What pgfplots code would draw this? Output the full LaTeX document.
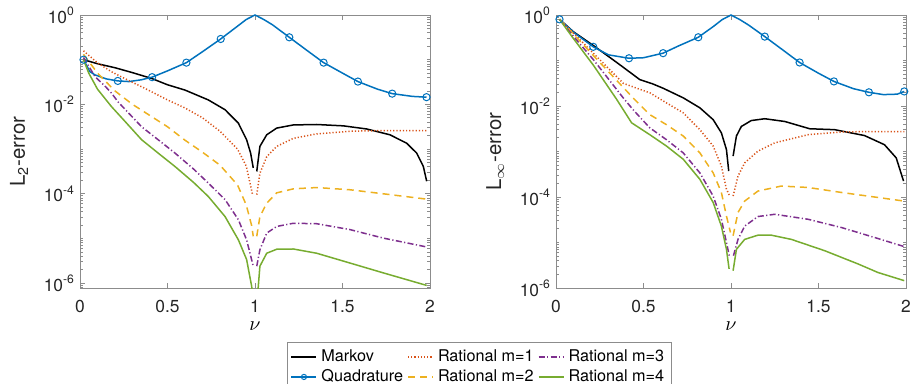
\documentclass[border=0pt]{standalone}
\usepackage{fontspec}
\setmainfont{TeX Gyre Heros}
\usepackage{pgfplots}
\pgfplotsset{compat=1.18}
\definecolor{mblue}{rgb}{0,0.447,0.741}
\definecolor{morange}{rgb}{0.85,0.325,0.098}
\definecolor{myellow}{rgb}{0.929,0.694,0.125}
\definecolor{mpurple}{rgb}{0.494,0.184,0.556}
\definecolor{mgreen}{rgb}{0.466,0.674,0.188}
\tikzset{
 mk/.style={color=black, draw=black, solid, line width=0.75pt},
 qd/.style={color=mblue, draw=mblue, solid, line width=0.75pt},
 r1/.style={color=morange, draw=morange, line width=0.75pt, dash pattern=on 0.6pt off 1pt},
 r2/.style={color=myellow, draw=myellow, line width=0.75pt, dash pattern=on 3.5pt off 2.5pt},
 r3/.style={color=mpurple, draw=mpurple, line width=0.75pt, dash pattern=on 3pt off 1.2pt on 0.6pt off 1.2pt},
 r4/.style={color=mgreen, draw=mgreen, solid, line width=0.75pt},
}
\pgfplotsset{
 every axis/.append style={
  scale only axis, width=175pt, height=136.5pt,
  xmin=0, xmax=2, ymax=1,
  xtick={0,0.5,1,1.5,2}, xticklabels={0,0.5,1,1.5,2},
  ytick={1e-6,1e-4,1e-2,1},
  yticklabels={10\textsuperscript{-6},10\textsuperscript{-4},10\textsuperscript{-2},10\textsuperscript{0}},
  minor ytick={8e-7,9e-7,2e-6,3e-6,4e-6,5e-6,6e-6,7e-6,8e-6,9e-6,1e-5,2e-5,3e-5,4e-5,5e-5,6e-5,7e-5,8e-5,9e-5,2e-4,3e-4,4e-4,5e-4,6e-4,7e-4,8e-4,9e-4,1e-3,2e-3,3e-3,4e-3,5e-3,6e-3,7e-3,8e-3,9e-3,2e-2,3e-2,4e-2,5e-2,6e-2,7e-2,8e-2,9e-2,1e-1,2e-1,3e-1,4e-1,5e-1,6e-1,7e-1,8e-1,9e-1},
  tick align=inside,
  major tick length=2.6pt, minor tick length=1.4pt,
  axis line style={black!45,line width=0.4pt},
  tick style={black!45,line width=0.4pt},
  tick label style={font=\fontsize{8.7}{10}\selectfont, text=black!85},
  xticklabel style={yshift=-2.5pt},
  yticklabel style={xshift=1pt},
  xlabel style={at={(axis description cs:0.5,-0.14)},anchor=center,inner sep=0pt,font=\fontsize{10.2}{12}\selectfont},
  ylabel style={at={(axis description cs:-0.174,0.5)},anchor=center,font=\fontsize{10.2}{12}\selectfont, text=black!85},
  unbounded coords=jump,
 },
}
\begin{document}
\begin{tikzpicture}
\useasboundingbox (0,0) rectangle (457.5pt,-192pt);
% ---------------- left: L2 error ----------------
\begin{semilogyaxis}[at={(40pt,-7.5pt)}, anchor=north west, ymin=7.8e-7,
  xlabel={$\nu$}, ylabel={L\textsubscript{2}-error},
  legend columns=3,
  legend style={at={(axis description cs:1.141,-0.197)}, anchor=north,
    draw=black!45, font=\fontsize{8.1}{9}\selectfont,
    inner xsep=1.5pt, inner ysep=1.9pt, row sep=-1.7pt},
  legend cell align=left,
  legend image code/.code={\draw[mark repeat=2,mark phase=2,#1,line width=0.95pt] plot coordinates {(0pt,0pt) (6.25pt,0pt) (12.5pt,0pt)};},
]
\addlegendimage{mk}\addlegendentry{Markov}
\addlegendimage{r1}\addlegendentry{Rational m=1}
\addlegendimage{r3}\addlegendentry{Rational m=3}
\addlegendimage{qd,mark=o,mark size=1.3pt,mark options={solid,draw=mblue,line width=0.5pt}}\addlegendentry{Quadrature}
\addlegendimage{r2}\addlegendentry{Rational m=2}
\addlegendimage{r4}\addlegendentry{Rational m=4}
% Markov
\addplot[mk, forget plot] coordinates {
(0.02,1.00e-1) (0.10,8.13e-2) (0.20,6.61e-2) (0.30,5.13e-2) (0.41,3.80e-2) (0.50,2.75e-2)
(0.60,2.09e-2) (0.733,1.26e-2) (0.829,7.59e-3) (0.905,3.80e-3) (0.952,1.62e-3) (0.975,8.13e-4)
(0.99,3.80e-4) (1.0,nan) (1.01,3.16e-4) (1.028,1.15e-3) (1.067,2.09e-3) (1.124,2.95e-3)
(1.219,3.47e-3) (1.352,3.55e-3) (1.505,3.31e-3) (1.638,2.82e-3) (1.771,2.09e-3) (1.867,1.35e-3)
(1.924,8.13e-4) (1.962,4.07e-4) (1.981,1.91e-4)};
% Quadrature
\addplot[qd, forget plot] coordinates {
(0.02,1.00e-1) (0.057,5.37e-2) (0.086,4.57e-2) (0.15,3.72e-2) (0.216,3.35e-2) (0.28,3.24e-2)
(0.35,3.55e-2) (0.412,4.07e-2) (0.50,5.62e-2) (0.608,8.59e-2) (0.70,1.51e-1) (0.804,2.91e-1)
(0.90,5.62e-1) (0.95,7.94e-1) (1.00,1.0) (1.05,7.94e-1) (1.10,6.03e-1) (1.196,3.17e-1)
(1.30,1.58e-1) (1.392,8.59e-2) (1.50,5.01e-2) (1.588,3.24e-2) (1.70,2.19e-2) (1.784,1.74e-2)
(1.90,1.51e-2) (1.98,1.45e-2)};
\addplot[mblue, only marks, mark=o, mark size=1.8pt, mark options={solid,line width=0.5pt}, forget plot] coordinates {
(0.02,1.00e-1) (0.216,3.35e-2) (0.412,4.07e-2) (0.608,8.59e-2) (0.804,2.91e-1)
(1.196,3.17e-1) (1.392,8.59e-2) (1.588,3.24e-2) (1.784,1.74e-2) (1.98,1.45e-2)};
% Rational m=1
\addplot[r1, forget plot] coordinates {
(0.02,1.58e-1) (0.10,8.51e-2) (0.18,5.37e-2) (0.27,3.55e-2) (0.37,2.29e-2) (0.50,1.26e-2)
(0.60,8.32e-3) (0.70,5.01e-3) (0.80,2.51e-3) (0.90,1.00e-3) (0.95,4.17e-4) (0.985,1.00e-4)
(1.0,nan) (1.01,9.55e-5) (1.028,2.88e-4) (1.067,6.76e-4) (1.124,1.15e-3) (1.219,1.74e-3)
(1.352,2.19e-3) (1.543,2.51e-3) (1.733,2.60e-3) (1.981,2.60e-3)};
% Rational m=2
\addplot[r2, forget plot] coordinates {
(0.02,1.32e-1) (0.10,5.01e-2) (0.20,2.00e-2) (0.30,1.00e-2) (0.40,5.62e-3) (0.50,3.16e-3)
(0.60,1.58e-3) (0.70,8.51e-4) (0.80,4.37e-4) (0.90,1.58e-4) (0.95,5.62e-5) (0.98,2.00e-5)
(0.99,1.12e-5) (1.0,nan) (1.01,1.12e-5) (1.028,3.09e-5) (1.067,6.17e-5) (1.124,1.05e-4)
(1.219,1.29e-4) (1.352,1.38e-4) (1.543,1.23e-4) (1.733,1.00e-4) (1.981,7.59e-5)};
% Rational m=3
\addplot[r3, forget plot] coordinates {
(0.02,1.12e-1) (0.086,4.17e-2) (0.15,2.40e-2) (0.18,1.78e-2) (0.219,1.12e-2) (0.352,3.16e-3)
(0.45,1.58e-3) (0.543,8.13e-4) (0.65,3.55e-4) (0.733,1.74e-4) (0.829,7.41e-5) (0.905,2.63e-5)
(0.952,9.33e-6) (0.99,2.40e-6) (1.0,nan) (1.01,2.40e-6) (1.028,5.62e-6) (1.067,1.32e-5)
(1.124,1.86e-5) (1.219,2.19e-5) (1.352,2.14e-5) (1.543,1.58e-5) (1.733,1.02e-5) (1.981,6.46e-6)};
% Rational m=4
\addplot[r4, forget plot] coordinates {
(0.02,1.00e-1) (0.05,5.01e-2) (0.10,2.19e-2) (0.18,8.91e-3) (0.25,4.47e-3) (0.352,1.62e-3)
(0.45,7.94e-4) (0.543,4.07e-4) (0.65,1.78e-4) (0.733,8.71e-5) (0.829,3.09e-5) (0.905,9.33e-6)
(0.952,3.39e-6) (0.981,8.51e-7) (0.99,3.16e-7) (1.0,nan) (1.01,3.16e-7) (1.028,2.40e-6)
(1.067,4.68e-6) (1.124,5.75e-6) (1.219,5.82e-6) (1.352,4.68e-6) (1.543,2.82e-6) (1.733,1.70e-6)
(1.981,8.91e-7)};
\end{semilogyaxis}
% ---------------- right: L-infinity error ----------------
\begin{semilogyaxis}[at={(278pt,-7.5pt)}, anchor=north west, ymin=1e-6,
  xlabel={$\nu$}, ylabel={L$_\infty$-error}]
\addplot[mk] coordinates {
(0.02,8.04e-1) (0.10,4.27e-1) (0.213,2.14e-1) (0.346,9.12e-2) (0.479,3.80e-2) (0.55,3.09e-2)
(0.613,2.45e-2) (0.727,1.51e-2) (0.822,9.12e-3) (0.898,5.01e-3) (0.945,2.57e-3) (0.974,1.10e-3)
(0.987,3.72e-4) (1.0,nan) (1.012,7.94e-4) (1.031,2.19e-3) (1.059,3.55e-3) (1.116,4.79e-3)
(1.193,5.25e-3) (1.307,4.57e-3) (1.45,3.16e-3) (1.592,3.02e-3) (1.763,2.24e-3) (1.877,1.41e-3)
(1.944,7.24e-4) (1.986,2.24e-4)};
\addplot[qd] coordinates {
(0.02,8.04e-1) (0.10,4.17e-1) (0.213,2.00e-1) (0.30,1.33e-1) (0.417,1.12e-1) (0.50,1.15e-1)
(0.612,1.45e-1) (0.70,2.09e-1) (0.813,3.24e-1) (0.90,5.62e-1) (0.95,7.94e-1) (1.00,1.0)
(1.05,7.94e-1) (1.10,6.03e-1) (1.193,3.35e-1) (1.30,1.66e-1) (1.392,9.04e-2) (1.50,5.25e-2)
(1.588,3.47e-2) (1.70,2.40e-2) (1.788,2.00e-2) (1.87,1.78e-2) (1.95,1.82e-2) (1.99,2.09e-2)};
\addplot[mblue, only marks, mark=o, mark size=1.8pt, mark options={solid,line width=0.5pt}] coordinates {
(0.02,8.04e-1) (0.213,2.00e-1) (0.417,1.12e-1) (0.612,1.45e-1) (0.813,3.24e-1)
(1.193,3.35e-1) (1.392,9.04e-2) (1.588,3.47e-2) (1.788,2.00e-2) (1.99,2.09e-2)};
\addplot[r1] coordinates {
(0.02,8.04e-1) (0.10,3.98e-1) (0.213,1.45e-1) (0.384,3.16e-2) (0.44,2.63e-2) (0.536,1.95e-2)
(0.631,1.17e-2) (0.727,7.08e-3) (0.822,3.02e-3) (0.898,1.32e-3) (0.945,4.79e-4) (0.974,1.48e-4)
(0.993,1.05e-4) (1.0,nan) (1.012,1.05e-4) (1.04,2.88e-4) (1.078,5.62e-4) (1.154,1.02e-3)
(1.25,1.55e-3) (1.44,2.34e-3) (1.63,2.69e-3) (1.82,2.75e-3) (1.99,2.75e-3)};
\addplot[r2] coordinates {
(0.02,8.04e-1) (0.10,3.80e-1) (0.213,1.29e-1) (0.384,2.57e-2) (0.44,1.51e-2) (0.536,6.46e-3)
(0.631,3.89e-3) (0.727,2.19e-3) (0.822,9.33e-4) (0.898,3.39e-4) (0.945,1.26e-4) (0.974,3.80e-5)
(0.997,1.66e-5) (1.0,nan) (1.012,1.41e-5) (1.04,4.57e-5) (1.078,8.13e-5) (1.154,1.35e-4)
(1.287,1.74e-4) (1.44,1.62e-4) (1.63,1.26e-4) (1.82,1.00e-4) (1.99,8.13e-5)};
\addplot[r3] coordinates {
(0.02,8.04e-1) (0.10,3.39e-1) (0.213,1.05e-1) (0.384,1.51e-2) (0.44,8.32e-3) (0.536,3.31e-3)
(0.631,1.82e-3) (0.727,9.33e-4) (0.822,3.39e-4) (0.898,1.05e-4) (0.945,3.24e-5) (0.974,1.00e-5)
(0.99,5.13e-6) (1.0,nan) (1.014,5.13e-6) (1.04,1.17e-5) (1.078,2.29e-5) (1.154,3.72e-5)
(1.25,4.17e-5) (1.44,3.24e-5) (1.63,2.14e-5) (1.82,1.29e-5) (1.99,8.13e-6)};
\addplot[r4] coordinates {
(0.02,8.04e-1) (0.10,3.02e-1) (0.213,7.94e-2) (0.346,1.41e-2) (0.432,4.27e-3) (0.536,2.34e-3)
(0.631,1.32e-3) (0.727,6.76e-4) (0.822,2.45e-4) (0.898,7.59e-5) (0.945,2.29e-5) (0.974,7.08e-6)
(0.989,2.63e-6) (1.0,nan) (1.012,2.40e-6) (1.031,7.08e-6) (1.078,1.17e-5) (1.154,1.45e-5)
(1.23,1.45e-5) (1.345,1.17e-5) (1.535,6.61e-6) (1.725,3.39e-6) (1.84,2.19e-6) (1.99,1.45e-6)};
\end{semilogyaxis}
\end{tikzpicture}
\end{document}
